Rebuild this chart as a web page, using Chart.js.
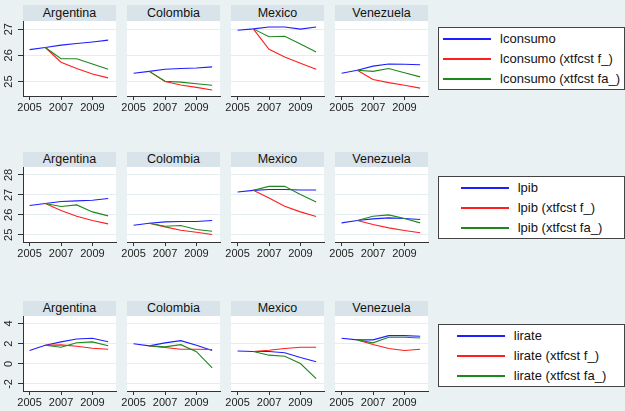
<!DOCTYPE html>
<html>
<head>
<meta charset="utf-8">
<script src="https://cdn.jsdelivr.net/npm/chart.js@4.4.1/dist/chart.umd.min.js"></script>
<style>
  body { margin: 0; background: #eaf1f3; font-family: "Liberation Sans", Arial, sans-serif; }
  #page { position: relative; width: 625px; height: 411px; overflow: hidden; }
  .hdr { position: absolute; background: #d8e4ea; color: #111; font-size: 12.5px; text-align: center; }
  canvas { position: absolute; }
  .leg { position: absolute; background: #fff; border: 1px solid #444; box-sizing: border-box;
         display: flex; align-items: center; justify-content: center; }
  .leg-row { display: flex; align-items: center; height: 20px; font-size: 13px; color: #111; }
  .leg-line { width: 48px; height: 0; border-top: 2px solid; margin-right: 9px; }
</style>
</head>
<body>
<div id="page"></div>
<script>
// datos
const years = [2005, 2006, 2007, 2008, 2009, 2010];
const countries = ['Argentina', 'Colombia', 'Mexico', 'Venezuela'];
const varNames = ['lconsumo', 'lpib', 'lirate'];
const seriesSuffix = ['', ' (xtfcst f_)', ' (xtfcst fa_)'];
const xTicks = [2005, 2007, 2009];

// una fila por pais: Argentina, Colombia, Mexico, Venezuela
const lconsumo = [
  [26.22, 26.30, 26.39, 26.45, 26.51, 26.58],
  [25.32, 25.39, 25.47, 25.50, 25.52, 25.56],
  [26.96, 27.01, 27.08, 27.08, 27.00, 27.08],
  [25.32, 25.43, 25.59, 25.67, 25.66, 25.64]
];
const lconsumoF = [
  [null, 26.30, 25.74, 25.50, 25.29, 25.14],
  [null, 25.39, 25.00, 24.87, 24.78, 24.68],
  [null, 27.01, 26.23, 25.94, 25.70, 25.47],
  [null, 25.43, 25.08, 24.96, 24.86, 24.75]
];
const lconsumoFa = [
  [null, 26.30, 25.87, 25.87, 25.67, 25.47],
  [null, 25.39, 25.01, 24.98, 24.92, 24.86],
  [null, 27.01, 26.71, 26.73, 26.43, 26.13],
  [null, 25.43, 25.39, 25.50, 25.34, 25.18]
];

const lpib = [
  [26.47, 26.57, 26.67, 26.70, 26.73, 26.82],
  [25.48, 25.58, 25.65, 25.67, 25.67, 25.72],
  [27.15, 27.23, 27.27, 27.27, 27.25, 27.25],
  [25.60, 25.72, 25.80, 25.85, 25.82, 25.77]
];
const lpibF = [
  [null, 26.57, 26.22, 25.93, 25.72, 25.55],
  [null, 25.58, 25.40, 25.23, 25.13, 25.02],
  [null, 27.23, 26.85, 26.43, 26.15, 25.92],
  [null, 25.72, 25.52, 25.35, 25.22, 25.10]
];
const lpibFa = [
  [null, 26.57, 26.42, 26.50, 26.15, 25.95],
  [null, 25.58, 25.43, 25.47, 25.27, 25.18],
  [null, 27.23, 27.43, 27.43, 27.02, 26.65],
  [null, 25.72, 25.93, 26.00, 25.82, 25.60]
];

const lirate = [
  [1.32, 1.85, 2.18, 2.47, 2.54, 2.20],
  [2.00, 1.78, 2.08, 2.30, 1.85, 1.32],
  [1.28, 1.22, 1.22, 1.10, 0.63, 0.20],
  [2.54, 2.38, 2.38, 2.80, 2.80, 2.74]
];
const lirateF = [
  [null, 1.85, 1.88, 1.75, 1.55, 1.45],
  [null, 1.78, 1.62, 1.45, 1.45, 1.42],
  [null, 1.22, 1.35, 1.52, 1.65, 1.65],
  [null, 2.38, 1.91, 1.52, 1.32, 1.45]
];
const lirateFa = [
  [null, 1.85, 1.65, 2.10, 2.18, 1.80],
  [null, 1.78, 1.68, 1.90, 1.20, -0.40],
  [null, 1.22, 0.86, 0.76, 0.03, -1.48],
  [null, 2.38, 2.08, 2.64, 2.64, 2.57]
];

const yTicksLconsumo = [25, 26, 27];
const yTicksLpib = [25, 26, 27, 28];
const yTicksLirate = [-2, 0, 2, 4];

// armado
const rowSeries = [
  [lconsumo, lconsumoF, lconsumoFa],
  [lpib, lpibF, lpibFa],
  [lirate, lirateF, lirateFa]
];
const rowTicks = [yTicksLconsumo, yTicksLpib, yTicksLirate];
const rowRange = [[24.45, 27.31], [24.64, 28.4], [-2.7, 4.75]];
const colores = ['rgb(30,30,255)', 'rgb(255,30,30)', 'rgb(30,135,30)'];

const rows = [
  { hdrTop: 4.5, plotTop: 21, plotH: 74.5, legTop: 27 },
  { hdrTop: 151.5, plotTop: 167, plotH: 75, legTop: 176 },
  { hdrTop: 300.5, plotTop: 316, plotH: 75, legTop: 324 }
];
const panelLeft = [23, 127, 231, 335];
const panelW = 93;
const page = document.getElementById('page');

const fondoBlanco = {
  id: 'fondoBlanco',
  beforeDraw(chart) {
    const a = chart.chartArea, ctx = chart.ctx;
    ctx.save();
    ctx.fillStyle = '#fff';
    ctx.fillRect(a.left, a.top, a.right - a.left, a.bottom - a.top);
    ctx.restore();
  }
};

// etiquetas del eje y rotadas (como Stata)
const etiquetasY = {
  id: 'etiquetasY',
  afterDraw(chart, args, opts) {
    if (!opts.show) return;
    const sc = chart.scales.y, ctx = chart.ctx;
    ctx.save();
    ctx.fillStyle = '#222';
    ctx.font = '11px "Liberation Sans", Arial, sans-serif';
    ctx.textAlign = 'center';
    ctx.textBaseline = 'middle';
    sc.ticks.forEach(t => {
      const y = sc.getPixelForValue(t.value);
      ctx.save();
      ctx.translate(chart.chartArea.left - 14, y);
      ctx.rotate(-Math.PI / 2);
      ctx.fillText(String(t.value), 0, 0);
      ctx.restore();
    });
    ctx.restore();
  }
};

rows.forEach((row, r) => {
  countries.forEach((pais, c) => {
    const first = c === 0;
    const hdr = document.createElement('div');
    hdr.className = 'hdr';
    hdr.textContent = pais;
    hdr.style.left = panelLeft[c] + 'px';
    hdr.style.top = row.hdrTop + 'px';
    hdr.style.width = panelW + 'px';
    hdr.style.height = (row.plotTop - row.hdrTop) + 'px';
    hdr.style.lineHeight = (row.plotTop - row.hdrTop) + 'px';
    page.appendChild(hdr);

    const padL = first ? 23 : 12, padR = 6;
    const cv = document.createElement('canvas');
    cv.width = padL + panelW + padR;
    cv.height = Math.round(row.plotH + 22);
    cv.style.left = (panelLeft[c] - padL) + 'px';
    cv.style.top = row.plotTop + 'px';
    page.appendChild(cv);

    const datasets = rowSeries[r].map((serie, s) => ({
      label: varNames[r] + seriesSuffix[s],
      data: years.map((yr, i) => ({ x: yr, y: serie[c][i] })),
      borderColor: colores[s],
      borderWidth: 1.1,
      pointRadius: 0,
      tension: 0,
      order: 3 - s
    }));

    new Chart(cv, {
      type: 'line',
      data: { datasets },
      plugins: [fondoBlanco, etiquetasY],
      options: {
        responsive: false,
        devicePixelRatio: 1,
        animation: false,
        layout: { padding: { left: first ? 0 : padL, right: padR, top: 0, bottom: 0 } },
        plugins: {
          legend: { display: false },
          tooltip: { enabled: false },
          etiquetasY: { show: first }
        },
        scales: {
          x: {
            type: 'linear',
            min: 2004.58,
            max: 2010.5,
            afterBuildTicks: sc => { sc.ticks = xTicks.map(v => ({ value: v })); },
            afterFit: sc => { sc.height = 22; },
            border: { display: true, color: '#333', width: 1 },
            grid: { drawOnChartArea: false, drawTicks: true, tickLength: 4, tickColor: '#333' },
            ticks: {
              padding: 1,
              maxRotation: 0,
              color: '#222',
              font: { family: '"Liberation Sans", Arial, sans-serif', size: 11 },
              callback: v => String(v)
            }
          },
          y: {
            min: rowRange[r][0],
            max: rowRange[r][1],
            afterBuildTicks: sc => { sc.ticks = rowTicks[r].map(v => ({ value: v })); },
            afterFit: sc => { sc.width = first ? 23 : 0; },
            border: { display: first, color: '#333', width: 1 },
            grid: {
              color: '#e4edf0',
              drawTicks: first,
              tickLength: 5,
              tickColor: '#333'
            },
            ticks: { display: false }
          }
        }
      }
    });
  });

  // leyenda de la fila
  const leg = document.createElement('div');
  leg.className = 'leg';
  leg.style.left = '438px';
  leg.style.top = row.legTop + 'px';
  leg.style.width = '187px';
  leg.style.height = '63px';
  const inner = document.createElement('div');
  seriesSuffix.forEach((suf, s) => {
    const item = document.createElement('div');
    item.className = 'leg-row';
    const ln = document.createElement('div');
    ln.className = 'leg-line';
    ln.style.borderTopColor = colores[s];
    const tx = document.createElement('span');
    tx.textContent = varNames[r] + suf;
    item.appendChild(ln);
    item.appendChild(tx);
    inner.appendChild(item);
  });
  leg.appendChild(inner);
  page.appendChild(leg);
});
</script>
</body>
</html>
